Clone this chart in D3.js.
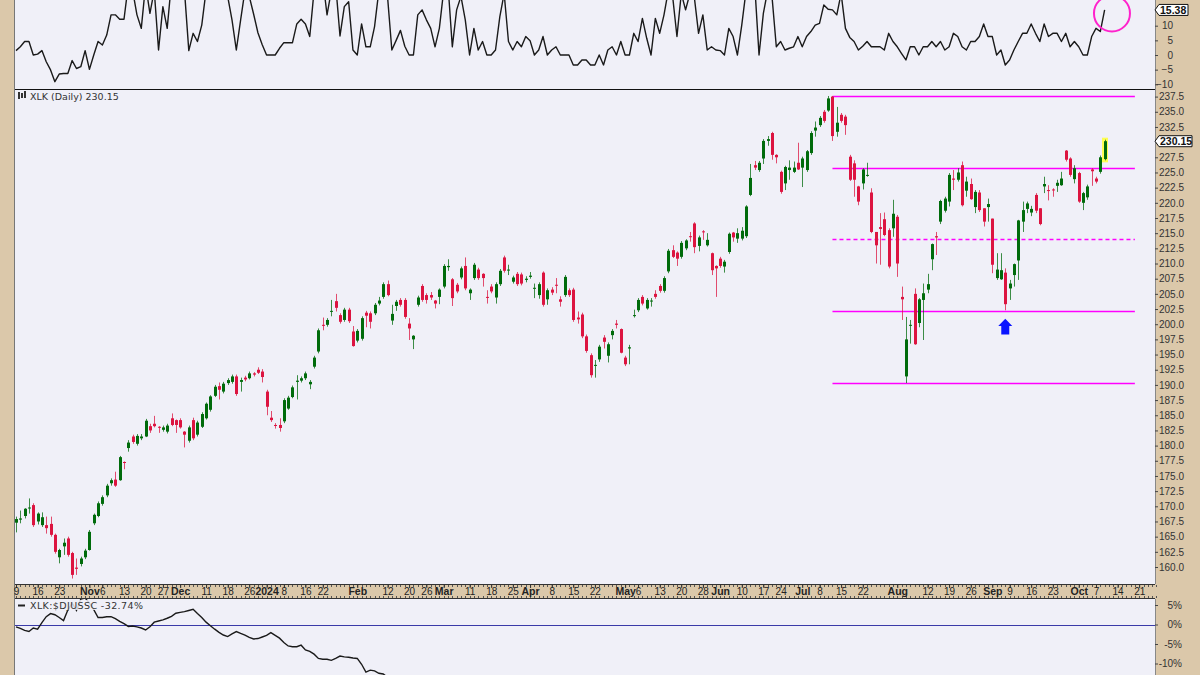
<!DOCTYPE html>
<html><head><meta charset="utf-8">
<script src="https://cdn.jsdelivr.net/npm/d3@7"></script>
<style>body{margin:0;background:#fff}svg{display:block}</style>
</head><body><svg id="c" width="1200" height="675"></svg>
<script>
// ---------- DATA ----------
const symbolLabel = "XLK (Daily) 230.15";
const relLabel = "XLK:$DJUSSC -32.74%";
const lastClose = 230.15;
const lastOsc = 15.38;
const firstDay = "2023-10-09", lastAxisDay = "2024-10-25";
const holidays = ["2023-11-23","2023-12-25","2024-01-01","2024-01-15","2024-02-19","2024-03-29","2024-05-27","2024-06-19","2024-07-04","2024-09-02"];

// daily [open, high, low, close]
const ohlc = [
[167.3,168.3,165.7,167.9],[167.8,169.3,167.2,168.0],[168.4,169.7,168.0,169.6],[169.7,171.3,168.8,169.8],[170.2,170.5,166.6,166.9],
[167.5,169.0,167.0,168.8],[166.9,169.0,166.6,168.2],[166.9,168.3,165.5,166.4],[167.1,168.3,165.0,165.3],[165.3,165.5,162.2,162.5],
[161.6,163.0,160.6,162.8],[163.4,164.7,162.0,164.0],[164.7,165.0,161.7,162.0],[162.3,162.5,158.1,158.7],[159.9,161.4,158.7,159.7],
[160.5,161.7,160.1,161.4],[161.6,163.0,161.3,162.7],[162.8,166.1,162.7,165.8],[167.2,168.8,166.9,168.6],[168.4,170.8,168.2,170.5],
[170.4,171.8,170.1,171.5],[171.8,173.7,171.5,173.4],[173.8,174.6,173.4,174.3],[174.4,175.7,173.2,173.4],[174.3,178.3,174.2,178.1],
[177.3,177.4,176.1,177.2],[179.6,180.9,179.0,180.5],[181.5,181.8,180.3,180.6],[180.3,181.9,180.0,181.6],[181.2,181.9,180.9,181.5],
[181.5,184.4,181.4,184.1],[183.2,183.6,182.1,182.5],[183.6,184.9,183.0,183.2],[183.1,183.2,182.1,183.0],[182.6,183.3,182.3,183.0],
[182.3,183.6,182.0,183.3],[184.5,185.3,183.2,183.4],[184.2,184.3,182.1,183.4],[184.2,184.5,182.8,183.0],[182.3,182.4,179.7,181.8],
[180.8,183.3,180.5,183.0],[184.2,184.6,180.9,181.2],[181.8,184.1,181.5,183.8],[183.1,185.5,182.9,185.2],[184.5,187.1,184.3,186.9],
[185.9,188.3,185.6,188.1],[188.2,190.0,188.0,189.7],[189.8,190.4,187.6,189.2],[188.9,190.5,188.6,190.2],[190.3,191.1,190.0,190.8],
[190.5,191.7,190.2,191.4],[191.4,191.7,188.2,188.5],[190.5,191.2,188.9,190.8],[191.2,191.5,190.6,190.9],[191.1,192.2,190.9,191.9],
[191.9,192.1,191.4,191.7],[192.5,192.9,191.8,192.0],[192.2,192.6,190.4,191.3],[188.9,189.2,185.0,186.4],[184.6,185.7,183.9,184.2],
[183.4,183.7,182.8,183.3],[183.4,184.5,182.3,182.9],[184.0,187.8,183.7,187.5],[186.1,188.2,185.9,187.9],[188.0,189.9,187.8,189.6],
[190.5,191.6,187.6,190.7],[190.7,191.4,190.4,191.1],[191.1,192.2,190.8,191.9],[190.1,190.8,189.3,190.5],[193.0,194.8,192.7,194.5],
[195.5,199.3,195.2,199.0],[199.9,201.1,199.0,199.8],[199.9,201.0,199.6,200.7],[202.1,204.0,201.3,202.2],[203.8,205.0,202.1,202.7],
[201.5,201.8,200.1,200.4],[200.7,202.7,200.4,202.4],[202.4,202.7,200.2,200.5],[198.8,199.7,196.3,196.4],[197.3,199.2,197.0,198.9],
[197.6,201.3,197.3,201.0],[201.9,202.2,199.5,201.4],[201.8,202.1,199.3,200.4],[201.8,203.5,201.5,203.2],[203.4,204.5,203.1,203.9],
[204.5,206.9,204.2,206.6],[206.6,207.2,204.6,204.8],[200.6,203.2,199.9,201.7],[203.0,204.0,202.2,203.7],[204.0,204.3,202.9,203.2],
[204.0,204.3,200.9,201.2],[200.1,201.0,197.4,199.3],[197.5,198.2,195.9,198.1],[203.2,204.7,202.9,204.4],[206.3,206.6,203.7,204.0],
[204.8,205.1,203.4,204.0],[204.8,205.3,204.0,204.4],[203.9,204.0,202.6,203.4],[204.5,205.9,203.3,205.7],[206.2,209.9,205.9,209.6],
[209.4,210.7,208.8,209.6],[207.4,207.6,203.0,204.3],[206.5,206.8,205.1,205.4],[207.7,209.5,207.4,209.2],[209.6,211.0,205.6,205.9],
[205.1,205.9,204.0,205.7],[207.6,210.1,207.3,209.8],[209.0,209.3,207.3,207.6],[208.3,208.4,206.2,207.6],[204.5,205.6,203.4,204.4],
[206.2,206.6,205.1,205.4],[204.4,206.9,203.4,206.6],[206.6,209.1,206.3,208.8],[211.0,211.3,208.5,208.8],[208.9,209.8,208.1,209.0],
[207.0,208.0,206.7,207.7],[208.3,208.6,206.3,206.6],[208.2,208.5,206.4,206.7],[207.3,207.9,206.9,207.5],[207.8,208.6,207.5,208.0],
[205.9,206.7,204.3,206.0],[204.8,206.9,204.2,206.6],[208.5,208.7,202.9,203.2],[204.1,205.9,203.2,205.6],[205.7,206.1,204.8,205.2],
[206.5,207.6,205.1,206.4],[204.1,204.6,202.9,203.7],[204.8,208.1,204.5,207.8],[205.6,205.9,204.5,204.8],[205.7,206.0,200.4,200.7],
[201.1,202.1,200.1,200.8],[201.6,201.9,197.7,198.0],[198.0,198.3,195.3,195.6],[194.9,195.2,191.2,191.6],[193.2,194.1,191.2,193.3],
[194.2,196.6,193.8,196.3],[197.8,198.2,196.0,197.1],[194.8,197.0,193.7,196.7],[198.2,199.2,197.5,198.9],[200.1,200.7,199.3,199.9],
[199.2,199.3,195.2,195.3],[194.5,194.8,193.1,193.4],[196.0,196.6,193.4,196.2],[201.4,202.4,201.1,201.5],[202.3,204.3,202.0,204.0],
[204.5,204.8,203.1,203.4],[202.6,204.3,202.4,204.0],[203.8,204.3,202.9,203.9],[205.0,205.6,204.2,204.5],[206.3,206.6,205.2,205.5],
[205.5,207.9,205.2,207.6],[208.7,212.4,208.4,212.1],[212.2,213.0,210.9,211.1],[211.8,212.0,209.6,210.8],[211.1,213.7,210.8,213.4],
[212.5,214.0,212.2,213.8],[214.5,215.2,213.6,214.4],[216.6,216.8,211.7,212.7],[212.9,214.6,212.0,214.3],[215.3,215.5,213.9,215.2],
[213.0,215.0,212.8,213.9],[211.7,211.8,208.1,208.9],[209.6,209.7,204.5,209.2],[210.8,211.1,209.3,209.6],[209.5,210.6,208.5,210.3],
[211.9,215.1,211.6,214.9],[215.1,215.2,213.6,214.3],[214.1,215.8,213.4,215.0],[214.1,216.0,213.8,215.4],[214.5,219.6,214.2,219.4],
[221.3,226.4,221.1,224.1],[226.2,226.9,225.4,225.8],[225.4,226.9,225.1,226.6],[227.3,230.5,226.4,230.2],[230.2,231.0,229.4,230.5],
[231.5,231.7,227.1,227.9],[227.9,228.0,226.5,227.5],[225.1,225.3,221.5,221.8],[223.2,226.1,222.1,225.9],[225.4,227.0,223.8,225.8],
[225.1,226.8,224.9,225.8],[226.6,229.9,225.4,225.5],[225.8,227.6,222.6,227.3],[225.4,228.7,225.1,228.5],[228.2,231.8,227.9,231.5],
[231.9,233.4,230.9,232.4],[232.8,234.3,232.5,234.0],[235.0,235.3,233.2,233.5],[235.2,237.6,235.0,237.2],[237.5,237.6,230.2,231.0],
[231.7,235.8,230.9,233.2],[234.5,234.8,233.2,233.5],[234.2,234.5,231.2,232.8],[227.6,227.9,223.6,223.8],[226.5,227.0,221.0,223.8],
[222.7,222.8,219.6,220.2],[223.2,225.7,222.2,225.5],[224.5,226.6,224.3,224.6],[221.7,222.4,215.0,215.2],[215.2,215.2,210.0,213.0],
[216.0,218.3,209.8,215.7],[217.3,218.4,214.5,214.7],[215.5,215.8,209.2,209.5],[215.8,220.5,214.4,218.2],[217.7,218.0,207.8,210.0],
[204.5,206.2,200.7,204.1],[191.4,201.2,190.3,197.5],[199.8,200.7,196.8,199.9],[205.0,205.9,196.6,196.7],[200.2,204.3,199.5,204.1],
[204.0,206.7,197.4,205.1],[205.7,208.3,205.1,206.6],[210.7,213.3,208.9,213.2],[214.5,215.2,211.4,214.3],[216.9,220.5,216.5,220.3],
[218.7,221.0,218.4,220.7],[220.2,224.9,219.4,224.6],[224.0,225.4,222.1,223.8],[223.8,225.7,223.5,225.0],[226.2,226.8,219.4,219.6],
[222.0,224.3,221.0,223.5],[223.1,224.0,220.5,220.6],[219.3,222.1,218.3,221.8],[221.7,222.1,218.5,218.8],[219.1,219.1,216.1,216.9],
[219.3,220.7,216.9,219.8],[217.4,217.4,208.4,209.8],[207.6,211.7,207.3,209.0],[207.4,211.7,207.3,208.9],[208.5,209.2,202.3,203.3],
[205.9,207.3,204.0,206.7],[208.1,210.0,206.2,209.9],[210.5,217.2,207.3,217.1],[216.9,220.2,215.2,218.8],[219.0,220.2,218.3,219.9],
[218.4,219.5,217.8,219.0],[221.3,221.6,218.3,218.7],[219.1,219.1,216.3,216.5],[222.7,224.3,221.6,223.1],[222.1,222.9,220.4,222.0],
[222.2,222.4,221.0,222.1],[222.8,223.8,221.8,223.3],[222.9,225.1,222.8,224.0],[228.6,228.7,226.8,227.1],[227.3,227.5,224.3,224.6],
[223.9,226.2,223.2,225.7],[224.9,225.1,220.0,220.2],[220.0,221.8,218.8,221.6],[220.9,223.0,220.5,222.7],[225.5,225.7,222.8,225.2],
[224.0,224.3,223.2,223.5],[225.1,227.8,224.8,227.5],[227.2,230.4,227.0,230.15]
];

// upper indicator panel (one value per day)
const osc = [
1.5,2.8,4.6,4.6,0.0,0.3,1.5,-2.3,-5.1,-9.1,-6.5,-6.3,-6.3,-1.9,-4.6,-4.0,1.5,-4.9,0.0,4.6,
3.4,6.8,13.7,13.7,12.2,12.2,24,22,13.7,9.1,24,14.2,22,1.7,16.5,9.1,25,28,26,22,
1.5,7.4,4.6,10.2,22,26,24,27,22,20,12,1.7,12,22,20,14,7.6,3.5,0.0,0.0,
0.0,2.3,4.2,4.2,4.2,10.6,12.2,10.6,6.3,22,28,26,13.7,22,24,6.5,16.5,18.2,1.7,0.0,
10.6,2.8,2.8,9.7,22,25,20,1.7,5.0,8.4,3.0,0.0,0.0,13.7,15.4,12.0,9.1,2.8,9.1,22,
24,2.8,15.4,20,12.0,0.0,9.1,1.7,4.6,0.0,0.0,1.7,13.1,21,4.6,1.7,4.6,2.8,6.3,4.9,
0.0,1.7,6.3,0.0,1.7,2.8,0.0,0.0,0.0,-3.4,-3.4,-1.7,-1.7,-3.4,-3.4,0.0,-3.4,1.7,2.8,0.0,
4.6,0.0,0.0,7.4,4.6,12.5,5.7,0.0,12.5,7.4,13.7,22,20,6.3,21,15.4,21,20,7.4,13.7,
1.7,2.8,1.7,1.5,0.0,9.1,6.3,0.0,10.2,22,28,24,0.0,14.2,22,20,2.8,4.6,1.7,2.3,
2.8,6.3,2.8,6.3,8.0,10.2,10.8,17.1,15.6,15.4,13.7,21,9.1,6.0,4.6,1.7,3.0,4.6,2.8,2.8,
2.8,1.7,7.4,4.6,2.8,0.5,-1.7,2.8,2.8,0.0,2.8,2.8,4.6,2.8,4.6,1.7,2.8,7.4,6.3,2.8,
1.7,4.6,4.6,6.3,10.6,6.3,6.3,0.0,1.7,-3.4,-1.7,1.7,4.6,7.4,7.4,10.6,7.4,4.6,10.6,6.3,
7.4,7.4,4.6,7.4,2.8,4.6,2.8,0.0,0.0,6.3,9.1,8.0,15.38
];

// relative strength vs $DJUSSC, % (visible part of the lower panel)
const relStrength = [
-0.6,-1.0,-1.5,-1.8,-0.9,-1.2,0.5,2.0,2.8,2.5,1.8,1.0,3.7,5.5,3.6,6.5,6.8,5.5,3.8,1.8,
1.8,2.0,2.0,1.5,0.8,0.2,-0.5,-0.4,-0.6,-0.9,-1.4,-0.6,0.6,0.9,1.2,1.6,2.1,2.9,3.1,3.3,
3.6,3.9,2.8,1.8,0.6,-0.3,-1.2,-2.0,-2.7,-3.1,-2.4,-1.8,-2.3,-2.7,-3.3,-3.7,-3.6,-3.2,-2.8,-2.1,
-2.8,-3.5,-4.6,-5.5,-5.7,-5.7,-5.3,-6.5,-6.9,-7.6,-8.7,-8.9,-8.9,-9.2,-8.7,-8.1,-8.3,-8.4,-8.6,-8.7,
-10.2,-12.2,-11.7,-11.9,-12.5,-12.7,-13.5,-14.5
];

// horizontal support / resistance levels (price) drawn from the July high
const levels = [237.6, 225.8, 214.0, 202.1, 190.3];
const dashedLevel = 214.0;

// (230.0 is covered by the last-price box, as in the original)
const priceTicks = [160,162.5,165,167.5,170,172.5,175,177.5,180,182.5,185,187.5,190,192.5,195,197.5,200,202.5,205,207.5,210,212.5,215,217.5,220,222.5,225,227.5,232.5,235,237.5];
const oscTicks = [10,5,0,-5,-10];
const relTicks = [5,0,-5,-10];

// x axis labels: [date, label, bold]
const dateTicks = [
["2023-10-09","9",0],["2023-10-16","16",0],["2023-10-23","23",0],["2023-11-01","Nov",1],["2023-11-06","6",0],
["2023-11-13","13",0],["2023-11-20","20",0],["2023-11-27","27",0],["2023-12-01","Dec",1],["2023-12-11","11",0],
["2023-12-18","18",0],["2023-12-26","26",0],["2024-01-02","2024",1],["2024-01-08","8",0],["2024-01-16","16",0],
["2024-01-22","22",0],["2024-02-01","Feb",1],["2024-02-12","12",0],["2024-02-20","20",0],["2024-02-26","26",0],
["2024-03-01","Mar",1],["2024-03-11","11",0],["2024-03-18","18",0],["2024-03-25","25",0],["2024-04-01","Apr",1],
["2024-04-08","8",0],["2024-04-15","15",0],["2024-04-22","22",0],["2024-05-01","May",1],["2024-05-06","6",0],
["2024-05-13","13",0],["2024-05-20","20",0],["2024-05-28","28",0],["2024-06-03","Jun",1],["2024-06-10","10",0],
["2024-06-17","17",0],["2024-06-24","24",0],["2024-07-01","Jul",1],["2024-07-08","8",0],["2024-07-15","15",0],
["2024-07-22","22",0],["2024-08-01","Aug",1],["2024-08-12","12",0],["2024-08-19","19",0],["2024-08-26","26",0],
["2024-09-03","Sep",1],["2024-09-09","9",0],["2024-09-16","16",0],["2024-09-23","23",0],["2024-10-01","Oct",1],
["2024-10-07","7",0],["2024-10-14","14",0],["2024-10-21","21",0]
];

// ---------- LAYOUT ----------
const TAN = "#DBC8AA", BG = "#F0F0F8", UP = "#006B0B", DN = "#DC1440";
const L = 15, R = 1155;
const P1 = {t:0, b:89}, P2 = {t:89, b:584}, AX = {t:584, b:598}, P3 = {t:599, b:675};
const FONT = "Liberation Sans, Arial, sans-serif";

const svg = d3.select("#c");
svg.append("rect").attr("width",1200).attr("height",675).attr("fill",TAN);
[P1,P2,P3].forEach(p=>svg.append("rect").attr("x",L).attr("y",p.t).attr("width",R-L).attr("height",p.b-p.t).attr("fill",BG));

const parse = d3.utcParse("%Y-%m-%d"), fmt = d3.utcFormat("%Y-%m-%d");
const days = [];
for (let d = parse(firstDay); d <= parse(lastAxisDay); d = d3.utcDay.offset(d,1)) {
  const wd = d.getUTCDay();
  if (wd===0 || wd===6 || holidays.includes(fmt(d))) continue;
  days.push(fmt(d));
}
const idxOf = s => days.indexOf(s);

const x = d3.scaleLinear().domain([0, 263.66]).range([16, R]);
const y = d3.scaleLinear().domain([160, 237.5]).range([567, 96.6]);
const yOsc = d3.scaleLinear().domain([-10, 10]).range([84.3, 25.7]);
const yRel = d3.scaleLinear().domain([-10, 5]).range([663.5, 605]);

const defs = svg.append("defs");
function clip(id, p){ defs.append("clipPath").attr("id",id).append("rect").attr("x",L).attr("y",p.t).attr("width",R-L).attr("height",p.b-p.t); }
clip("c1",P1); clip("c2",P2); clip("c3",P3);

// ---------- TOP PANEL ----------
const g1 = svg.append("g").attr("clip-path","url(#c1)");
g1.append("path").datum(osc).attr("fill","none").attr("stroke","#1a1a1a").attr("stroke-width",1.4)
  .attr("stroke-linejoin","round")
  .attr("d", d3.line().x((d,i)=>x(i)).y(d=>yOsc(d)));
svg.append("circle").attr("cx",x(253.7)).attr("cy",yOsc(14.2)).attr("r",18)
  .attr("fill","none").attr("stroke","#FF22CC").attr("stroke-width",2);

// ---------- MAIN PANEL ----------
const g2 = svg.append("g").attr("clip-path","url(#c2)");
const lvlStart = 189, lvlEnd = 259;
g2.selectAll("line.lvl").data(levels).join("line")
  .attr("x1",x(lvlStart)).attr("x2",x(lvlEnd))
  .attr("y1",d=>Math.round(y(d))+0.5).attr("y2",d=>Math.round(y(d))+0.5)
  .attr("stroke","#FF00FF").attr("stroke-width",1.3)
  .attr("stroke-dasharray",d=>d===dashedLevel?"4,3":null);

const last = ohlc.length-1;
g2.append("rect").attr("x",Math.round(x(last))-3).attr("y",y(ohlc[last][1])-2)
  .attr("width",6).attr("height",y(ohlc[last][2])-y(ohlc[last][1])+4)
  .attr("fill","#FFFF40").attr("opacity",0.9);

const candles = g2.selectAll("g.c").data(ohlc).join("g");
candles.append("line")
  .attr("x1",(d,i)=>Math.round(x(i))+0.5).attr("x2",(d,i)=>Math.round(x(i))+0.5)
  .attr("y1",d=>y(d[1])).attr("y2",d=>y(d[2]))
  .attr("stroke",d=>d[3]>=d[0]?UP:DN).attr("stroke-opacity",0.75).attr("stroke-width",1);
candles.append("rect")
  .attr("x",(d,i)=>Math.round(x(i))-1).attr("width",3)
  .attr("y",d=>y(Math.max(d[0],d[3])))
  .attr("height",d=>Math.max(1,Math.abs(y(d[0])-y(d[3]))))
  .attr("fill",d=>d[3]>=d[0]?UP:DN);

const ax = x(229), tipY = y(200.9), headY = y(199.7), baseY = y(198.3);
svg.append("path").attr("fill","#0A14FF")
  .attr("d",`M${ax},${tipY} L${ax+7},${headY} L${ax+4},${headY} L${ax+4},${baseY} L${ax-4},${baseY} L${ax-4},${headY} L${ax-7},${headY} Z`);

// ---------- LOWER PANEL ----------
const g3 = svg.append("g").attr("clip-path","url(#c3)");
g3.append("line").attr("x1",L).attr("x2",R).attr("y1",Math.round(yRel(0))+0.5).attr("y2",Math.round(yRel(0))+0.5)
  .attr("stroke","#3A3AA8").attr("stroke-width",1.2);
g3.append("path").datum(relStrength).attr("fill","none").attr("stroke","#1a1a1a").attr("stroke-width",1.4)
  .attr("d", d3.line().x((d,i)=>x(i)).y(d=>yRel(d)));

// ---------- BORDERS ----------
svg.append("line").attr("x1",L).attr("x2",R).attr("y1",89.5).attr("y2",89.5).attr("stroke","#111");
svg.append("line").attr("x1",L).attr("x2",R).attr("y1",AX.t+0.5).attr("y2",AX.t+0.5).attr("stroke","#333");
svg.append("line").attr("x1",L).attr("x2",R).attr("y1",AX.b+0.5).attr("y2",AX.b+0.5).attr("stroke","#333");
svg.append("line").attr("x1",L-0.5).attr("x2",L-0.5).attr("y1",0).attr("y2",675).attr("stroke","#777");
svg.append("line").attr("x1",R+0.5).attr("x2",R+0.5).attr("y1",0).attr("y2",584).attr("stroke","#888");
svg.append("line").attr("x1",R+0.5).attr("x2",R+0.5).attr("y1",599).attr("y2",675).attr("stroke","#888");

// ---------- AXES ----------
function styleAxis(g){ g.select(".domain").remove(); g.selectAll("text").attr("font-family",FONT).attr("font-size",10).attr("fill","#333"); g.selectAll("line").attr("stroke","#444"); }

const aMain = svg.append("g").attr("transform",`translate(${R},0)`)
  .call(d3.axisRight(y).tickValues(priceTicks).tickFormat(d3.format(".1f")).tickSize(3).tickPadding(1));
styleAxis(aMain);

const aOsc = svg.append("g").attr("transform",`translate(${R},0)`)
  .call(d3.axisRight(yOsc).tickValues(oscTicks).tickSize(3).tickPadding(1));
styleAxis(aOsc);
aOsc.selectAll("text").attr("text-anchor","end").attr("x",18);

const aRel = svg.append("g").attr("transform",`translate(${R},0)`)
  .call(d3.axisRight(yRel).tickValues(relTicks).tickFormat(d=>d+"%").tickSize(3).tickPadding(1));
styleAxis(aRel);
aRel.selectAll("text").attr("text-anchor","end").attr("x",27);

const dayTicks = d3.range(days.length);
svg.append("g").selectAll("line").data(dayTicks).join("line")
  .attr("x1",i=>Math.round(x(i))+0.5).attr("x2",i=>Math.round(x(i))+0.5)
  .attr("y1",AX.t+1).attr("y2",AX.t+3).attr("stroke","#555").attr("stroke-width",1);
svg.append("g").selectAll("line").data(dayTicks).join("line")
  .attr("x1",i=>Math.round(x(i))+0.5).attr("x2",i=>Math.round(x(i))+0.5)
  .attr("y1",AX.b-2).attr("y2",AX.b).attr("stroke","#555").attr("stroke-width",1);

const tickIdx = dateTicks.map(t=>idxOf(t[0]));
const aDate = svg.append("g").attr("transform",`translate(0,${AX.t})`)
  .call(d3.axisBottom(x).tickValues(tickIdx).tickSize(4).tickPadding(1)
    .tickFormat((d,i)=>dateTicks[i][1]));
aDate.select(".domain").remove();
aDate.selectAll("line").attr("stroke","#333");
aDate.selectAll("text").attr("font-family",FONT).attr("fill","#222")
  .attr("font-size",(d,i)=>dateTicks[i][2]?10.5:10)
  .attr("font-weight",(d,i)=>dateTicks[i][2]?"bold":"normal")
  .attr("dy","0.55em");

function valueBox(val, yy, txt, w){
  const g = svg.append("g");
  g.append("path").attr("d",`M${R},${yy} L${R+4},${yy-5.5} L${R+4+w},${yy-5.5} L${R+4+w},${yy+5.5} L${R+4},${yy+5.5} Z`)
    .attr("fill","#fff").attr("stroke","#111").attr("stroke-width",1);
  g.append("text").attr("x",R+5).attr("y",yy+4).text(txt)
    .attr("font-family",FONT).attr("font-size",10.5).attr("font-weight","bold").attr("fill","#111");
}
valueBox(lastOsc, yOsc(lastOsc), d3.format(".2f")(lastOsc), 29);
valueBox(lastClose, y(lastClose), d3.format(".2f")(lastClose), 33);

// ---------- LEGENDS ----------
const lg = svg.append("g");
lg.append("rect").attr("x",18).attr("y",92).attr("width",2).attr("height",7).attr("fill","#333");
lg.append("rect").attr("x",21).attr("y",93).attr("width",2).attr("height",5).attr("fill","#333");
lg.append("rect").attr("x",24).attr("y",91).attr("width",2).attr("height",7).attr("fill","#333");
lg.append("text").attr("x",30).attr("y",100).text(symbolLabel)
  .attr("font-family","DejaVu Sans, Verdana, sans-serif").attr("font-size",9.5).attr("fill","#333");

const rl = svg.append("g");
rl.append("rect").attr("x",16).attr("y",600).attr("width",138).attr("height",10).attr("fill",BG).attr("opacity",0.85);
rl.append("line").attr("x1",18).attr("x2",25).attr("y1",605.5).attr("y2",605.5).attr("stroke","#222").attr("stroke-width",2);
rl.append("text").attr("x",30).attr("y",609).text(relLabel)
  .attr("font-family","DejaVu Sans, Verdana, sans-serif").attr("font-size",9.5).attr("letter-spacing",0.4).attr("fill","#333");
</script>
</body></html>
